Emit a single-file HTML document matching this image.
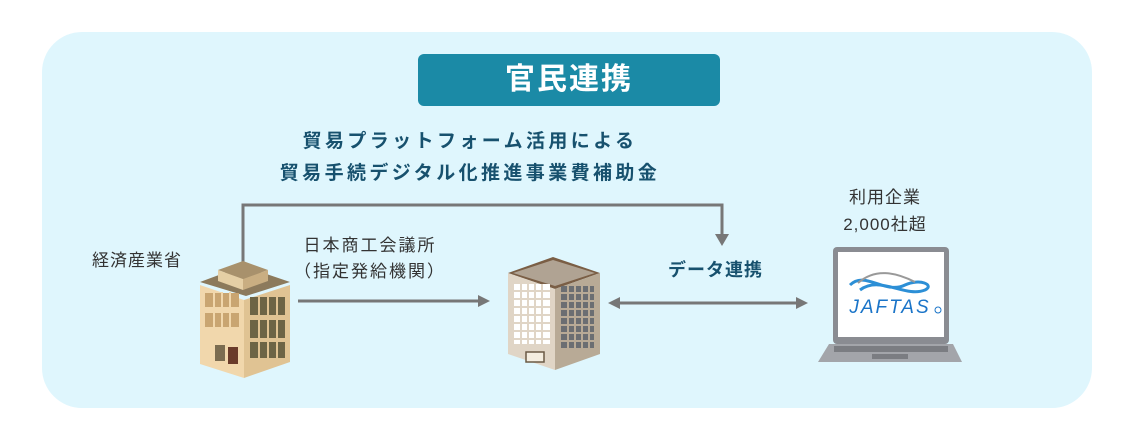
<!DOCTYPE html>
<html><head><meta charset="utf-8"><style>
body{margin:0;width:1136px;height:440px;background:#fff;position:relative;overflow:hidden;font-family:"Liberation Sans","Noto Sans CJK JP",sans-serif}
.a{position:absolute;white-space:nowrap}
</style></head><body>
<div class="a" style="left:42px;top:32px;width:1050px;height:376px;background:#dff6fd;border-radius:40px"></div>
<div class="a" style="left:418px;top:54px;width:302px;height:52px;background:#1b8aa6;border-radius:6px;color:#fff;font-size:30px;font-weight:bold;text-align:center;line-height:52px;letter-spacing:2px">官民連携</div>
<div class="a" style="left:220px;top:126px;width:500px;text-align:center;color:#17516e;font-size:19px;font-weight:bold;line-height:32px;letter-spacing:3.4px">貿易プラットフォーム活用による<br>貿易手続デジタル化推進事業費補助金</div>
<div class="a" style="left:92px;top:246px;font-size:17px;color:#333;letter-spacing:1px">経済産業省</div>
<div class="a" style="left:290px;top:233px;width:160px;text-align:center;font-size:17px;color:#333;line-height:26px;letter-spacing:2px">日本商工会議所<br>（指定発給機関）</div>
<div class="a" style="left:668px;top:256px;font-size:18px;font-weight:bold;color:#17516e;letter-spacing:1px">データ連携</div>
<div class="a" style="left:820px;top:184px;width:130px;text-align:center;font-size:17px;color:#333;line-height:27px;letter-spacing:1px">利用企業<br>2,000社超</div>
<svg class="a" style="left:0;top:0" width="1136" height="440">
<g stroke="#777" stroke-width="3" fill="none">
<polyline points="243,272 243,205 722,205 722,236"/>
<line x1="298" y1="301" x2="480" y2="301"/>
<line x1="618" y1="303" x2="798" y2="303"/>
</g>
<g fill="#777">
<polygon points="715,234 729,234 722,246"/>
<polygon points="478,295 490,301 478,307"/>
<polygon points="620,297 608,303 620,309"/>
<polygon points="796,297 808,303 796,309"/>
</g>
<polygon points="200,282 243,266 290,282 246,296" fill="#8c7a5c"/>
<polygon points="218,270 243,261 268,270 243,279" fill="#a8916c"/>
<polygon points="218,270 243,279 243,290 218,281" fill="#e5cfa5"/>
<polygon points="243,279 268,270 268,281 243,290" fill="#c9ae82"/>
<polygon points="200,285 244,300 244,378 200,364" fill="#f1d7ac"/>
<polygon points="244,300 290,285 290,362 244,378" fill="#e0c393"/>
<g fill="#c9a571"><rect x="205" y="293" width="34" height="14"/><rect x="205" y="313" width="34" height="14"/></g>
<g fill="#f1d7ac"><rect x="213" y="292" width="2" height="36"/><rect x="221" y="292" width="2" height="36"/><rect x="229" y="292" width="2" height="36"/></g>
<g fill="#6d6445"><rect x="250" y="297" width="35" height="18"/><rect x="250" y="320" width="35" height="18"/><rect x="250" y="342" width="35" height="16"/></g>
<g fill="#e0c393"><rect x="258" y="296" width="2" height="63"/><rect x="267" y="296" width="2" height="63"/><rect x="276" y="296" width="2" height="63"/></g>
<rect x="215" y="345" width="10" height="16" fill="#7b6c50"/><rect x="228" y="347" width="10" height="17" fill="#6a3b2a"/>
<polygon points="508,273 553,257 600,273 555,289" fill="#7a5e45"/>
<polygon points="513,273 553,260 595,273 555,286" fill="#b0a393"/>
<polygon points="508,273 555,289 555,370 508,354" fill="#e0d5c6"/>
<polygon points="555,289 600,273 600,354 555,370" fill="#b8aa96"/>
<g fill="#fff"><rect x="514" y="284" width="36" height="60"/></g>
<g fill="#e0d5c6"><rect x="520" y="284" width="2" height="60"/><rect x="527" y="284" width="2" height="60"/><rect x="534" y="284" width="2" height="60"/><rect x="541" y="284" width="2" height="60"/>
<rect x="514" y="290" width="36" height="2"/><rect x="514" y="298" width="36" height="2"/><rect x="514" y="306" width="36" height="2"/><rect x="514" y="314" width="36" height="2"/><rect x="514" y="322" width="36" height="2"/><rect x="514" y="330" width="36" height="2"/><rect x="514" y="338" width="36" height="2"/></g>
<rect x="561" y="286" width="33" height="62" fill="#6b6e72"/>
<g fill="#b8aa96"><rect x="567" y="286" width="2" height="62"/><rect x="574" y="286" width="2" height="62"/><rect x="581" y="286" width="2" height="62"/><rect x="588" y="286" width="2" height="62"/>
<rect x="561" y="292" width="33" height="2"/><rect x="561" y="300" width="33" height="2"/><rect x="561" y="308" width="33" height="2"/><rect x="561" y="316" width="33" height="2"/><rect x="561" y="324" width="33" height="2"/><rect x="561" y="332" width="33" height="2"/><rect x="561" y="340" width="33" height="2"/></g>
<rect x="526" y="352" width="18" height="10" fill="#f4ede0" stroke="#6a5a45" stroke-width="1.5"/>
<rect x="833" y="247" width="116" height="97" rx="4" fill="#8a8c92"/>
<rect x="838" y="252" width="106" height="85" fill="#fff"/>
<polygon points="829,344 953,344 962,362 818,362" fill="#a3a5aa"/>
<rect x="834" y="346" width="114" height="6" fill="#7b7d82"/>
<rect x="872" y="354" width="36" height="5" fill="#7b7d82"/>
<path d="M850,285 C865,270 885,295 905,285 C920,278 935,285 925,290 C905,298 880,275 860,290" stroke="#2c8fd6" stroke-width="3" fill="none"/>
<path d="M858,283 C875,268 895,272 915,282" stroke="#999" stroke-width="2" fill="none"/>
<text x="890" y="313" text-anchor="middle" font-family="Liberation Sans,sans-serif" font-style="italic" font-size="19" fill="#1a74c8" letter-spacing="2">JAFTAS</text>
<circle cx="938" cy="310" r="3" fill="none" stroke="#1a74c8" stroke-width="1"/>
</svg>
</body></html>
